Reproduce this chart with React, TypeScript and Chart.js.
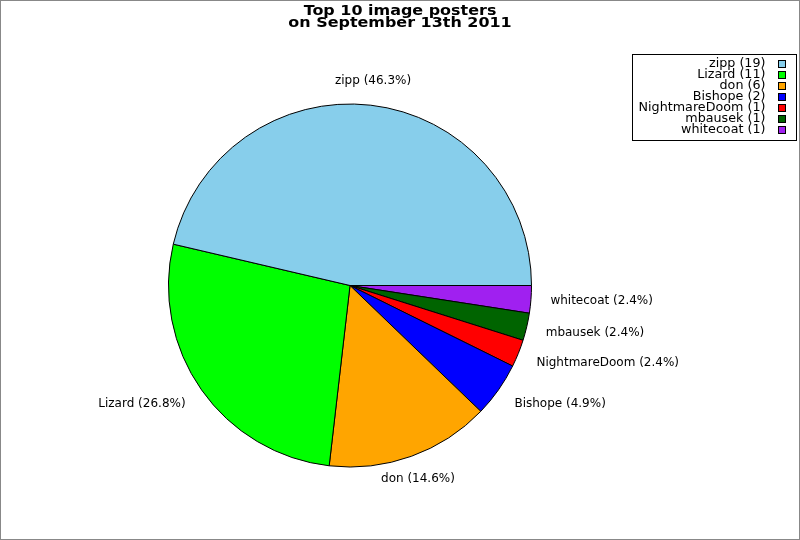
import { useEffect, useRef } from 'react';
import { Chart, registerables } from 'chart.js';

Chart.register(...registerables);

const TITLE_LINES = ['Top 10 image posters', 'on September 13th 2011'];
const POSTERS = ['zipp', 'Lizard', 'don', 'Bishope', 'NightmareDoom', 'mbausek', 'whitecoat'];
const COUNTS = [19, 11, 6, 2, 1, 1, 1];
const COLORS = ['#87CEEB', '#00FF00', '#FFA500', '#0000FF', '#FF0000', '#006400', '#A020F0'];

const FONT = '"DejaVu Sans", "Liberation Sans", sans-serif';

function scaledText(ctx: CanvasRenderingContext2D, text: string, x: number, y: number, sx: number) {
  ctx.save();
  ctx.translate(x, y);
  ctx.scale(sx, 1);
  ctx.fillText(text, 0, 0);
  ctx.restore();
}

export default function App() {
  const ref = useRef<HTMLCanvasElement | null>(null);

  useEffect(() => {
    document.body.style.margin = '0';
    const canvas = ref.current;
    if (!canvas) return;
    const total = COUNTS.reduce((a, b) => a + b, 0);
    const n = POSTERS.length;
    // Chart.js draws clockwise; reverse so the reference's counter-clockwise order is kept.
    const labelsRev = [...POSTERS].reverse();
    const countsRev = [...COUNTS].reverse();
    const colorsRev = [...COLORS].reverse();

    const decor = {
      id: 'decor',
      afterDraw(chart: any) {
        const ctx = chart.ctx as CanvasRenderingContext2D;
        ctx.save();
        // outer border
        ctx.strokeStyle = '#888888';
        ctx.lineWidth = 1;
        ctx.strokeRect(0.5, 0.5, 799, 539);

        // title
        ctx.fillStyle = '#000';
        ctx.font = `bold 14.5px ${FONT}`;
        ctx.textAlign = 'center';
        ctx.textBaseline = 'alphabetic';
        scaledText(ctx, TITLE_LINES[0], 400, 15, 1.1);
        scaledText(ctx, TITLE_LINES[1], 400, 27, 1.1);

        // slice labels
        const meta = chart.getDatasetMeta(0);
        ctx.font = `12px ${FONT}`;
        ctx.textBaseline = 'middle';
        meta.data.forEach((arc: any, i: number) => {
          const orig = n - 1 - i;
          const mid = (arc.startAngle + arc.endAngle) / 2;
          const c = Math.cos(mid);
          const s = Math.sin(mid);
          const x = arc.x + (arc.outerRadius + 19.5) * c;
          const y = arc.y + (arc.outerRadius + 24.5) * s;
          ctx.textAlign = Math.abs(c) < 0.45 ? 'center' : c > 0 ? 'left' : 'right';
          const pct = ((COUNTS[orig] / total) * 100).toFixed(1);
          ctx.fillText(`${POSTERS[orig]} (${pct}%)`, x, y);
        });

        // legend
        ctx.strokeStyle = '#000';
        ctx.strokeRect(632.5, 54.5, 164, 86);
        ctx.textAlign = 'right';
        ctx.textBaseline = 'middle';
        ctx.font = `12px ${FONT}`;
        POSTERS.forEach((p, i) => {
          const y = 63.5 + i * 11;
          ctx.fillStyle = '#000';
          scaledText(ctx, `${p} (${COUNTS[i]})`, 765.5, y, 1.06);
          ctx.fillStyle = COLORS[i];
          ctx.fillRect(778, Math.round(y - 4), 8, 8);
          ctx.strokeRect(778.5, Math.round(y - 4) + 0.5, 7, 7);
        });
        ctx.restore();
      },
    };

    const chart = new Chart(canvas, {
      type: 'pie',
      data: {
        labels: labelsRev,
        datasets: [
          {
            data: countsRev,
            backgroundColor: colorsRev,
            borderColor: '#000000',
            borderWidth: 1,
            hoverOffset: 0,
          },
        ],
      },
      options: {
        responsive: false,
        animation: false,
        devicePixelRatio: 1,
        rotation: 90,
        events: [],
        layout: { padding: { left: 168, right: 268, top: 103, bottom: 72 } },
        plugins: {
          legend: { display: false },
          title: { display: false },
          tooltip: { enabled: false },
        },
      },
      plugins: [decor],
    });
    return () => chart.destroy();
  }, []);

  return <canvas ref={ref} width={800} height={540} style={{ display: 'block', width: 800, height: 540 }} />;
}
